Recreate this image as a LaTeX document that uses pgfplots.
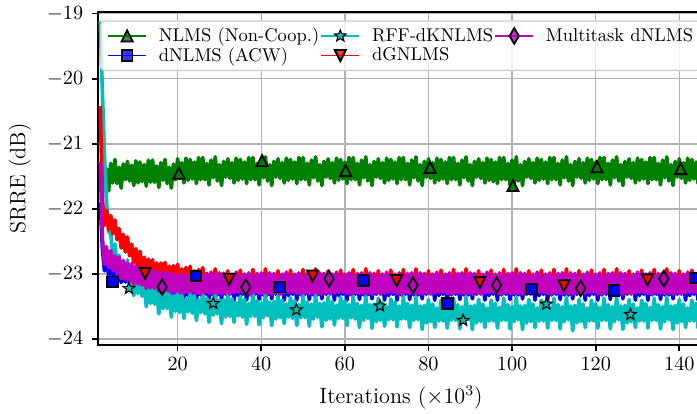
\documentclass[border=0pt]{standalone}
\usepackage{pgfplots}
\usepackage{pgfplotstable}
\pgfplotsset{compat=1.18}

% matplotlib-style colours
\definecolor{nlmsgreen}{rgb}{0,0.5,0}
\definecolor{acwblue}{rgb}{0,0,1}
\definecolor{rffcyan}{rgb}{0,0.75,0.75}
\definecolor{dgred}{rgb}{1,0,0}
\definecolor{mtmag}{rgb}{0.75,0,0.75}

% marker shapes
\pgfdeclareplotmark{mtriup}{%
  \pgfpathmoveto{\pgfqpoint{0pt}{\pgfplotmarksize}}%
  \pgfpathlineto{\pgfqpoint{-\pgfplotmarksize}{-\pgfplotmarksize}}%
  \pgfpathlineto{\pgfqpoint{\pgfplotmarksize}{-\pgfplotmarksize}}%
  \pgfpathclose\pgfusepathqfillstroke}
\pgfdeclareplotmark{mtridown}{%
  \pgfpathmoveto{\pgfqpoint{0pt}{-\pgfplotmarksize}}%
  \pgfpathlineto{\pgfqpoint{-\pgfplotmarksize}{\pgfplotmarksize}}%
  \pgfpathlineto{\pgfqpoint{\pgfplotmarksize}{\pgfplotmarksize}}%
  \pgfpathclose\pgfusepathqfillstroke}
\pgfdeclareplotmark{mstar}{%
  \pgfpathmoveto{\pgfqpoint{0pt}{\pgfplotmarksize}}%
  \pgfpathlineto{\pgfqpoint{-0.247\pgfplotmarksize}{0.340\pgfplotmarksize}}%
  \pgfpathlineto{\pgfqpoint{-0.951\pgfplotmarksize}{0.309\pgfplotmarksize}}%
  \pgfpathlineto{\pgfqpoint{-0.399\pgfplotmarksize}{-0.130\pgfplotmarksize}}%
  \pgfpathlineto{\pgfqpoint{-0.588\pgfplotmarksize}{-0.809\pgfplotmarksize}}%
  \pgfpathlineto{\pgfqpoint{0pt}{-0.420\pgfplotmarksize}}%
  \pgfpathlineto{\pgfqpoint{0.588\pgfplotmarksize}{-0.809\pgfplotmarksize}}%
  \pgfpathlineto{\pgfqpoint{0.399\pgfplotmarksize}{-0.130\pgfplotmarksize}}%
  \pgfpathlineto{\pgfqpoint{0.951\pgfplotmarksize}{0.309\pgfplotmarksize}}%
  \pgfpathlineto{\pgfqpoint{0.247\pgfplotmarksize}{0.340\pgfplotmarksize}}%
  \pgfpathclose\pgfusepathqfillstroke}
\pgfdeclareplotmark{mthindiamond}{%
  \pgfpathmoveto{\pgfqpoint{0pt}{\pgfplotmarksize}}%
  \pgfpathlineto{\pgfqpoint{0.6\pgfplotmarksize}{0pt}}%
  \pgfpathlineto{\pgfqpoint{0pt}{-\pgfplotmarksize}}%
  \pgfpathlineto{\pgfqpoint{-0.6\pgfplotmarksize}{0pt}}%
  \pgfpathclose\pgfusepathqfillstroke}

% SRRE learning curves (dB), iterations in thousands
% g: NLMS (Non-Coop.), b: dNLMS (ACW), c: RFF-dKNLMS, r: dGNLMS, m: Multitask dNLMS
\pgfplotstableread{
x g b c r m
1.5 -21.45 -21.90 -19.12 -20.42 -21.28
2.0 -21.40 -22.60 -20.20 -21.85 -22.45
2.5 -21.68 -22.95 -21.20 -22.25 -22.85
3.0 -21.38 -22.75 -21.90 -22.02 -22.58
3.5 -21.72 -23.02 -22.35 -22.32 -22.90
4.0 -21.30 -22.82 -22.38 -22.10 -22.64
4.5 -21.60 -23.08 -22.72 -22.38 -22.95
5.0 -21.24 -22.84 -22.54 -22.17 -22.72
5.5 -21.61 -23.06 -22.88 -22.47 -23.00
6.0 -21.36 -22.88 -22.71 -22.30 -22.74
6.5 -21.68 -23.13 -23.06 -22.60 -23.07
7.0 -21.31 -22.90 -22.82 -22.39 -22.79
7.5 -21.55 -23.12 -23.05 -22.66 -23.08
8.0 -21.27 -22.95 -22.78 -22.43 -22.83
8.5 -21.57 -23.16 -23.15 -22.72 -23.11
9.0 -21.33 -22.98 -22.95 -22.54 -22.84
9.5 -21.64 -23.22 -23.33 -22.83 -23.16
10.0 -21.26 -22.98 -23.04 -22.61 -22.87
10.5 -21.60 -23.20 -23.30 -22.88 -23.15
11.0 -21.28 -23.02 -22.98 -22.65 -22.90
11.5 -21.58 -23.23 -23.34 -22.93 -23.17
12.0 -21.32 -23.04 -23.12 -22.74 -22.90
12.5 -21.65 -23.31 -23.50 -23.01 -23.22
13.0 -21.25 -23.01 -23.19 -22.77 -22.93
13.5 -21.59 -23.25 -23.45 -23.03 -23.21
14.0 -21.25 -23.05 -23.10 -22.78 -22.96
14.5 -21.59 -23.26 -23.46 -23.04 -23.22
15.0 -21.34 -23.07 -23.23 -22.83 -22.95
15.5 -21.67 -23.35 -23.61 -23.09 -23.26
16.0 -21.29 -23.04 -23.29 -22.83 -22.97
16.5 -21.56 -23.28 -23.53 -23.08 -23.24
17.0 -21.24 -23.06 -23.18 -22.82 -22.99
17.5 -21.61 -23.28 -23.53 -23.10 -23.25
18.0 -21.36 -23.08 -23.29 -22.88 -22.98
18.5 -21.68 -23.37 -23.66 -23.13 -23.29
19.0 -21.31 -23.05 -23.33 -22.87 -23.00
19.5 -21.55 -23.30 -23.57 -23.11 -23.27
20.0 -21.23 -23.09 -23.25 -22.85 -23.02
20.5 -21.53 -23.30 -23.59 -23.13 -23.28
21.0 -21.29 -23.11 -23.32 -22.92 -23.00
21.5 -21.60 -23.40 -23.68 -23.16 -23.30
22.0 -21.22 -23.06 -23.38 -22.90 -23.01
22.5 -21.56 -23.33 -23.58 -23.14 -23.28
23.0 -21.24 -23.10 -23.28 -22.88 -23.02
23.5 -21.54 -23.31 -23.60 -23.16 -23.28
24.0 -21.28 -23.12 -23.33 -22.95 -23.00
24.5 -21.61 -23.40 -23.71 -23.19 -23.30
25.0 -21.21 -23.07 -23.39 -22.93 -22.98
25.5 -21.55 -23.32 -23.59 -23.17 -23.31
26.0 -21.21 -23.08 -23.27 -22.90 -23.02
26.5 -21.55 -23.31 -23.61 -23.19 -23.29
27.0 -21.30 -23.10 -23.37 -22.99 -22.99
27.5 -21.63 -23.39 -23.74 -23.23 -23.30
28.0 -21.25 -23.07 -23.40 -22.97 -22.98
28.5 -21.52 -23.32 -23.63 -23.20 -23.30
29.0 -21.20 -23.07 -23.27 -22.92 -23.01
29.5 -21.57 -23.32 -23.61 -23.21 -23.30
30.0 -21.32 -23.09 -23.40 -23.01 -22.98
30.5 -21.64 -23.38 -23.76 -23.25 -23.31
31.0 -21.27 -23.08 -23.39 -22.99 -22.99
31.5 -21.51 -23.31 -23.66 -23.22 -23.29
32.0 -21.23 -23.09 -23.31 -22.95 -23.03
32.5 -21.53 -23.30 -23.65 -23.25 -23.31
33.0 -21.29 -23.11 -23.38 -23.02 -23.00
33.5 -21.60 -23.40 -23.74 -23.28 -23.29
34.0 -21.22 -23.06 -23.44 -23.00 -22.97
34.5 -21.56 -23.33 -23.64 -23.22 -23.28
35.0 -21.24 -23.10 -23.34 -22.94 -23.02
35.5 -21.54 -23.31 -23.66 -23.24 -23.28
36.0 -21.28 -23.12 -23.39 -23.01 -23.00
36.5 -21.61 -23.40 -23.77 -23.29 -23.30
37.0 -21.21 -23.07 -23.45 -23.03 -22.98
37.5 -21.55 -23.32 -23.65 -23.23 -23.31
38.0 -21.21 -23.08 -23.31 -22.93 -23.02
38.5 -21.55 -23.31 -23.65 -23.22 -23.29
39.0 -21.30 -23.10 -23.41 -23.03 -22.99
39.5 -21.63 -23.39 -23.78 -23.27 -23.30
40.0 -21.25 -23.07 -23.44 -23.01 -22.98
40.5 -21.52 -23.32 -23.67 -23.24 -23.30
41.0 -21.20 -23.07 -23.30 -22.92 -23.01
41.5 -21.57 -23.32 -23.64 -23.23 -23.30
42.0 -21.32 -23.09 -23.43 -23.04 -22.98
42.5 -21.64 -23.38 -23.79 -23.26 -23.31
43.0 -21.27 -23.08 -23.42 -23.02 -22.99
43.5 -21.51 -23.31 -23.69 -23.25 -23.29
44.0 -21.23 -23.09 -23.33 -22.95 -23.03
44.5 -21.53 -23.30 -23.67 -23.25 -23.31
45.0 -21.29 -23.11 -23.40 -23.02 -23.00
45.5 -21.60 -23.40 -23.76 -23.28 -23.29
46.0 -21.22 -23.06 -23.46 -23.00 -22.97
46.5 -21.56 -23.33 -23.66 -23.22 -23.28
47.0 -21.24 -23.10 -23.36 -22.94 -23.02
47.5 -21.54 -23.31 -23.68 -23.24 -23.28
48.0 -21.28 -23.12 -23.41 -23.01 -23.00
48.5 -21.61 -23.40 -23.79 -23.29 -23.30
49.0 -21.21 -23.07 -23.47 -23.03 -22.98
49.5 -21.55 -23.32 -23.67 -23.23 -23.31
50.0 -21.21 -23.08 -23.33 -22.93 -23.02
50.5 -21.55 -23.31 -23.67 -23.22 -23.29
51.0 -21.30 -23.10 -23.43 -23.03 -22.99
51.5 -21.63 -23.39 -23.80 -23.27 -23.30
52.0 -21.25 -23.07 -23.46 -23.01 -22.98
52.5 -21.52 -23.32 -23.69 -23.24 -23.30
53.0 -21.20 -23.07 -23.32 -22.92 -23.01
53.5 -21.57 -23.32 -23.66 -23.23 -23.30
54.0 -21.32 -23.09 -23.45 -23.04 -22.98
54.5 -21.64 -23.38 -23.81 -23.26 -23.31
55.0 -21.27 -23.08 -23.44 -23.02 -22.99
55.5 -21.51 -23.31 -23.71 -23.25 -23.29
56.0 -21.23 -23.09 -23.35 -22.95 -23.03
56.5 -21.53 -23.30 -23.69 -23.25 -23.31
57.0 -21.29 -23.11 -23.42 -23.02 -23.00
57.5 -21.60 -23.40 -23.78 -23.28 -23.29
58.0 -21.22 -23.06 -23.48 -23.00 -22.97
58.5 -21.56 -23.33 -23.68 -23.22 -23.28
59.0 -21.24 -23.10 -23.36 -22.94 -23.02
59.5 -21.54 -23.31 -23.68 -23.24 -23.28
60.0 -21.28 -23.12 -23.41 -23.01 -23.00
60.5 -21.61 -23.40 -23.79 -23.29 -23.30
61.0 -21.21 -23.07 -23.47 -23.03 -22.98
61.5 -21.55 -23.32 -23.67 -23.23 -23.31
62.0 -21.21 -23.08 -23.35 -22.93 -23.02
62.5 -21.55 -23.31 -23.69 -23.22 -23.29
63.0 -21.30 -23.10 -23.45 -23.03 -22.99
63.5 -21.63 -23.39 -23.82 -23.27 -23.30
64.0 -21.25 -23.07 -23.48 -23.01 -22.98
64.5 -21.52 -23.32 -23.71 -23.24 -23.30
65.0 -21.20 -23.07 -23.34 -22.92 -23.01
65.5 -21.57 -23.32 -23.68 -23.23 -23.30
66.0 -21.32 -23.09 -23.47 -23.04 -22.98
66.5 -21.64 -23.38 -23.83 -23.26 -23.31
67.0 -21.27 -23.08 -23.46 -23.02 -22.99
67.5 -21.51 -23.31 -23.73 -23.25 -23.29
68.0 -21.23 -23.09 -23.37 -22.95 -23.03
68.5 -21.53 -23.30 -23.71 -23.25 -23.31
69.0 -21.29 -23.11 -23.44 -23.02 -23.00
69.5 -21.60 -23.40 -23.80 -23.28 -23.29
70.0 -21.22 -23.06 -23.50 -23.00 -22.97
70.5 -21.56 -23.33 -23.70 -23.22 -23.28
71.0 -21.24 -23.10 -23.38 -22.94 -23.02
71.5 -21.54 -23.31 -23.70 -23.24 -23.28
72.0 -21.28 -23.12 -23.43 -23.01 -23.00
72.5 -21.61 -23.40 -23.81 -23.29 -23.30
73.0 -21.21 -23.07 -23.49 -23.03 -22.98
73.5 -21.55 -23.32 -23.69 -23.23 -23.31
74.0 -21.21 -23.08 -23.35 -22.93 -23.02
74.5 -21.55 -23.31 -23.69 -23.22 -23.29
75.0 -21.30 -23.10 -23.45 -23.03 -22.99
75.5 -21.63 -23.39 -23.82 -23.27 -23.30
76.0 -21.25 -23.07 -23.48 -23.01 -22.98
76.5 -21.52 -23.32 -23.71 -23.24 -23.30
77.0 -21.20 -23.07 -23.36 -22.92 -23.01
77.5 -21.57 -23.32 -23.70 -23.23 -23.30
78.0 -21.32 -23.09 -23.49 -23.04 -22.98
78.5 -21.64 -23.38 -23.85 -23.26 -23.31
79.0 -21.27 -23.08 -23.48 -23.02 -22.99
79.5 -21.51 -23.31 -23.75 -23.25 -23.29
80.0 -21.23 -23.09 -23.39 -22.95 -23.03
80.5 -21.53 -23.30 -23.73 -23.25 -23.31
81.0 -21.29 -23.11 -23.46 -23.02 -23.00
81.5 -21.60 -23.40 -23.82 -23.28 -23.29
82.0 -21.22 -23.06 -23.52 -23.00 -22.97
82.5 -21.56 -23.33 -23.72 -23.22 -23.28
83.0 -21.24 -23.10 -23.40 -22.94 -23.02
83.5 -21.54 -23.31 -23.72 -23.24 -23.28
84.0 -21.28 -23.12 -23.45 -23.01 -23.00
84.5 -21.61 -23.40 -23.83 -23.29 -23.30
85.0 -21.21 -23.07 -23.51 -23.03 -22.98
85.5 -21.55 -23.32 -23.71 -23.23 -23.31
86.0 -21.21 -23.08 -23.37 -22.93 -23.02
86.5 -21.55 -23.31 -23.71 -23.22 -23.29
87.0 -21.30 -23.10 -23.47 -23.03 -22.99
87.5 -21.63 -23.39 -23.84 -23.27 -23.30
88.0 -21.25 -23.07 -23.50 -23.01 -22.98
88.5 -21.52 -23.32 -23.73 -23.24 -23.30
89.0 -21.20 -23.07 -23.36 -22.92 -23.01
89.5 -21.57 -23.32 -23.70 -23.23 -23.30
90.0 -21.32 -23.09 -23.49 -23.04 -22.98
90.5 -21.64 -23.38 -23.85 -23.26 -23.31
91.0 -21.27 -23.08 -23.48 -23.02 -22.99
91.5 -21.51 -23.31 -23.75 -23.25 -23.29
92.0 -21.23 -23.09 -23.39 -22.95 -23.03
92.5 -21.53 -23.30 -23.73 -23.25 -23.31
93.0 -21.29 -23.11 -23.46 -23.02 -23.00
93.5 -21.60 -23.40 -23.82 -23.28 -23.29
94.0 -21.22 -23.06 -23.52 -23.00 -22.97
94.5 -21.56 -23.33 -23.72 -23.22 -23.28
95.0 -21.24 -23.10 -23.40 -22.94 -23.02
95.5 -21.58 -23.31 -23.72 -23.24 -23.28
96.0 -21.28 -23.12 -23.45 -23.01 -23.00
96.5 -21.61 -23.40 -23.83 -23.29 -23.30
97.0 -21.21 -23.07 -23.51 -23.03 -22.98
97.5 -21.55 -23.32 -23.71 -23.23 -23.31
98.0 -21.21 -23.08 -23.37 -22.93 -23.02
98.5 -21.55 -23.31 -23.71 -23.22 -23.29
99.0 -21.30 -23.10 -23.47 -23.03 -22.99
99.5 -21.63 -23.39 -23.84 -23.27 -23.30
100.0 -21.25 -23.07 -23.50 -23.01 -22.98
100.5 -21.62 -23.32 -23.73 -23.24 -23.30
101.0 -21.20 -23.07 -23.36 -22.92 -23.01
101.5 -21.57 -23.32 -23.70 -23.23 -23.30
102.0 -21.32 -23.09 -23.49 -23.04 -22.98
102.5 -21.64 -23.38 -23.85 -23.26 -23.31
103.0 -21.27 -23.08 -23.48 -23.02 -22.99
103.5 -21.51 -23.31 -23.75 -23.25 -23.29
104.0 -21.23 -23.09 -23.39 -22.95 -23.03
104.5 -21.53 -23.30 -23.73 -23.25 -23.31
105.0 -21.29 -23.11 -23.46 -23.02 -23.00
105.5 -21.60 -23.40 -23.82 -23.28 -23.29
106.0 -21.22 -23.06 -23.52 -23.00 -22.97
106.5 -21.56 -23.33 -23.72 -23.22 -23.28
107.0 -21.24 -23.10 -23.40 -22.94 -23.02
107.5 -21.54 -23.31 -23.72 -23.24 -23.28
108.0 -21.28 -23.12 -23.45 -23.01 -23.00
108.5 -21.61 -23.40 -23.83 -23.29 -23.30
109.0 -21.21 -23.07 -23.51 -23.03 -22.98
109.5 -21.55 -23.32 -23.71 -23.23 -23.31
110.0 -21.21 -23.08 -23.37 -22.93 -23.02
110.5 -21.55 -23.31 -23.71 -23.22 -23.29
111.0 -21.30 -23.10 -23.47 -23.03 -22.99
111.5 -21.63 -23.39 -23.84 -23.27 -23.30
112.0 -21.25 -23.07 -23.50 -23.01 -22.98
112.5 -21.52 -23.32 -23.73 -23.24 -23.30
113.0 -21.20 -23.07 -23.36 -22.92 -23.01
113.5 -21.57 -23.32 -23.70 -23.23 -23.30
114.0 -21.32 -23.09 -23.49 -23.04 -22.98
114.5 -21.64 -23.38 -23.87 -23.26 -23.31
115.0 -21.27 -23.08 -23.48 -23.02 -22.99
115.5 -21.51 -23.31 -23.75 -23.25 -23.29
116.0 -21.23 -23.09 -23.39 -22.95 -23.03
116.5 -21.53 -23.30 -23.73 -23.25 -23.31
117.0 -21.29 -23.11 -23.46 -23.02 -23.00
117.5 -21.60 -23.40 -23.82 -23.28 -23.29
118.0 -21.22 -23.06 -23.52 -23.00 -22.97
118.5 -21.56 -23.33 -23.72 -23.22 -23.28
119.0 -21.24 -23.10 -23.40 -22.94 -23.02
119.5 -21.54 -23.31 -23.72 -23.24 -23.28
120.0 -21.28 -23.12 -23.45 -23.01 -23.00
120.5 -21.61 -23.40 -23.83 -23.29 -23.30
121.0 -21.21 -23.07 -23.51 -23.03 -22.98
121.5 -21.55 -23.32 -23.71 -23.23 -23.31
122.0 -21.21 -23.08 -23.37 -22.93 -23.02
122.5 -21.55 -23.31 -23.71 -23.22 -23.29
123.0 -21.30 -23.10 -23.47 -23.03 -22.99
123.5 -21.63 -23.39 -23.84 -23.27 -23.30
124.0 -21.25 -23.07 -23.50 -23.01 -22.98
124.5 -21.52 -23.32 -23.73 -23.24 -23.30
125.0 -21.20 -23.07 -23.36 -22.92 -23.01
125.5 -21.57 -23.32 -23.70 -23.23 -23.30
126.0 -21.32 -23.09 -23.49 -23.04 -22.98
126.5 -21.64 -23.38 -23.85 -23.26 -23.31
127.0 -21.27 -23.08 -23.48 -23.02 -22.99
127.5 -21.51 -23.31 -23.75 -23.25 -23.29
128.0 -21.23 -23.09 -23.39 -22.95 -23.03
128.5 -21.53 -23.30 -23.73 -23.25 -23.31
129.0 -21.29 -23.11 -23.46 -23.02 -23.00
129.5 -21.60 -23.40 -23.82 -23.28 -23.29
130.0 -21.22 -23.06 -23.52 -23.00 -22.97
130.5 -21.56 -23.33 -23.72 -23.22 -23.28
131.0 -21.24 -23.10 -23.40 -22.94 -22.99
131.5 -21.54 -23.31 -23.72 -23.24 -23.28
132.0 -21.28 -23.12 -23.45 -23.01 -23.00
132.5 -21.61 -23.40 -23.83 -23.29 -23.30
133.0 -21.21 -23.07 -23.51 -23.03 -22.98
133.5 -21.55 -23.32 -23.71 -23.23 -23.31
134.0 -21.21 -23.08 -23.37 -22.93 -23.02
134.5 -21.55 -23.31 -23.71 -23.22 -23.29
135.0 -21.30 -23.10 -23.47 -23.03 -22.99
135.5 -21.63 -23.39 -23.84 -23.27 -23.30
136.0 -21.25 -23.07 -23.50 -23.01 -22.98
136.5 -21.52 -23.32 -23.73 -23.24 -23.30
137.0 -21.20 -23.07 -23.36 -22.92 -23.01
137.5 -21.57 -23.32 -23.70 -23.23 -23.30
138.0 -21.32 -23.09 -23.49 -23.04 -22.98
138.5 -21.64 -23.38 -23.85 -23.26 -23.31
139.0 -21.27 -23.08 -23.48 -23.02 -22.99
139.5 -21.51 -23.31 -23.75 -23.25 -23.29
140.0 -21.23 -23.09 -23.39 -22.95 -23.03
140.5 -21.53 -23.30 -23.73 -23.25 -23.31
141.0 -21.29 -23.11 -23.46 -23.02 -23.00
141.5 -21.60 -23.40 -23.82 -23.28 -23.29
142.0 -21.22 -23.06 -23.52 -23.00 -22.97
142.5 -21.56 -23.33 -23.72 -23.22 -23.28
143.0 -21.24 -23.10 -23.40 -22.94 -23.02
143.5 -21.54 -23.31 -23.72 -23.24 -23.28
144.0 -21.28 -23.12 -23.45 -23.01 -23.00
144.5 -21.61 -23.40 -23.83 -23.29 -23.30
145.0 -21.21 -23.07 -23.51 -23.03 -22.98
145.5 -21.55 -23.32 -23.71 -23.23 -23.31
}\srre

\begin{document}
\begin{tikzpicture}
\begin{axis}[
  scale only axis,
  width=328.2pt, height=180pt,
  xmin=0.86, xmax=146, ymin=-24.09, ymax=-18.98,
  xtick={20,40,...,140},
  ytick={-24,-23,...,-19},
  grid=major,
  major grid style={line width=0.8pt, draw=black!30},
  axis line style={line width=1pt},
  tick align=outside,
  xtick pos=left, ytick pos=left,
  major tick length=3.3pt,
  every tick/.style={black, line width=0.9pt},
  xticklabel style={font=\fontsize{11}{13}\selectfont},
  yticklabel style={font=\fontsize{11}{13}\selectfont, xshift=-1pt},
  xlabel={Iterations ($\times10^3$)},
  ylabel={SRRE (dB)},
  every axis x label/.style={at={([yshift=-28.5pt]axis description cs:0.5,0)}, anchor=center, font=\fontsize{12}{14}\selectfont},
  every axis y label/.style={at={([xshift=-42pt]axis description cs:0,0.5)}, anchor=center, rotate=90, font=\fontsize{12}{14}\selectfont},
  legend columns=3,
  legend cell align=left,
  legend image code/.code={\draw[mark repeat=2,mark phase=2,#1] plot coordinates {(0pt,0pt) (10.25pt,0pt) (20.5pt,0pt)};},
  legend style={
    at={([xshift=1.3pt,yshift=-4.4pt]axis description cs:0,1)}, anchor=north west,
    draw=black!20, line width=0.6pt, rounded corners=2pt,
    fill=white, fill opacity=0.8, draw opacity=1, text opacity=1,
    inner xsep=3.6pt, inner ysep=3.6pt,
    nodes={inner sep=0pt},
    row sep=1.6pt,
    /tikz/every odd column/.append style={column sep=6.4pt},
    /tikz/every even column/.append style={column sep=0.6pt},
    font=\normalsize,
  },
]
% legend (filled row by row)
\addlegendimage{nlmsgreen, line width=1pt, mark=mtriup, mark size=3pt, mark options={solid, fill=nlmsgreen, draw=black, line width=1pt}}
\addlegendentry{NLMS (Non-Coop.)}
\addlegendimage{rffcyan, line width=1pt, mark=mstar, mark size=3.3pt, mark options={solid, fill=rffcyan, draw=black, line width=0.6pt}}
\addlegendentry{RFF-dKNLMS}
\addlegendimage{mtmag, line width=1pt, mark=mthindiamond, mark size=4.2pt, mark options={solid, fill=mtmag, draw=black, line width=1pt}}
\addlegendentry{Multitask dNLMS}
\addlegendimage{acwblue, line width=1pt, mark=square*, mark size=2.9pt, mark options={solid, fill=acwblue, draw=black, line width=1pt}}
\addlegendentry{dNLMS (ACW)}
\addlegendimage{dgred, line width=1pt, mark=mtridown, mark size=3pt, mark options={solid, fill=dgred, draw=black, line width=1pt}}
\addlegendentry{dGNLMS}

% learning curves
\addplot[forget plot, no marks, draw=nlmsgreen, line width=2pt, line join=round] table[x=x, y=g] {\srre};
\addplot[forget plot, no marks, draw=acwblue, line width=2pt, line join=round] table[x=x, y=b] {\srre};
\addplot[forget plot, no marks, draw=rffcyan, line width=2pt, line join=round] table[x=x, y=c] {\srre};
\addplot[forget plot, no marks, draw=dgred, line width=2pt, line join=round] table[x=x, y=r] {\srre};
\addplot[forget plot, no marks, draw=mtmag, line width=2pt, line join=round] table[x=x, y=m] {\srre};

% markers
\addplot[forget plot, only marks, mark=mtriup, mark size=3pt, mark options={fill=nlmsgreen, draw=black, line width=1pt}]
  coordinates {(20.3,-21.45) (40.2,-21.26) (60.2,-21.41) (80.4,-21.36) (100.2,-21.64) (120.3,-21.35) (140.3,-21.38)};
\addplot[forget plot, only marks, mark=square*, mark size=2.9pt, mark options={fill=acwblue, draw=black, line width=1pt}]
  coordinates {(4.45,-23.12) (24.4,-23.03) (44.4,-23.20) (64.4,-23.10) (84.5,-23.45) (104.6,-23.23) (124.4,-23.25) (143.9,-23.06)};
\addplot[forget plot, only marks, mark=mstar, mark size=3.3pt, mark options={fill=rffcyan, draw=black, line width=0.6pt}]
  coordinates {(8.35,-23.22) (28.5,-23.45) (48.4,-23.55) (68.4,-23.49) (88.3,-23.71) (108.2,-23.46) (128.3,-23.62)};
\addplot[forget plot, only marks, mark=mtridown, mark size=3pt, mark options={fill=dgred, draw=black, line width=1pt}]
  coordinates {(12.2,-22.99) (32.3,-23.08) (52.3,-23.03) (72.4,-23.10) (92.3,-23.13) (112.4,-23.18) (132.4,-23.09)};
\addplot[forget plot, only marks, mark=mthindiamond, mark size=4.2pt, mark options={fill=mtmag, draw=black, line width=1pt}]
  coordinates {(16.3,-23.20) (36.3,-23.20) (56.2,-23.07) (76.3,-23.17) (96.3,-23.17) (116.4,-23.22) (136.3,-23.07)};
\end{axis}
\pgfresetboundingbox
\path[use as bounding box] ([shift={(-52.8pt,-37.1pt)}]current axis.south west) rectangle ([shift={(324.2pt,6.65pt)}]current axis.north west);
\end{tikzpicture}
\end{document}
